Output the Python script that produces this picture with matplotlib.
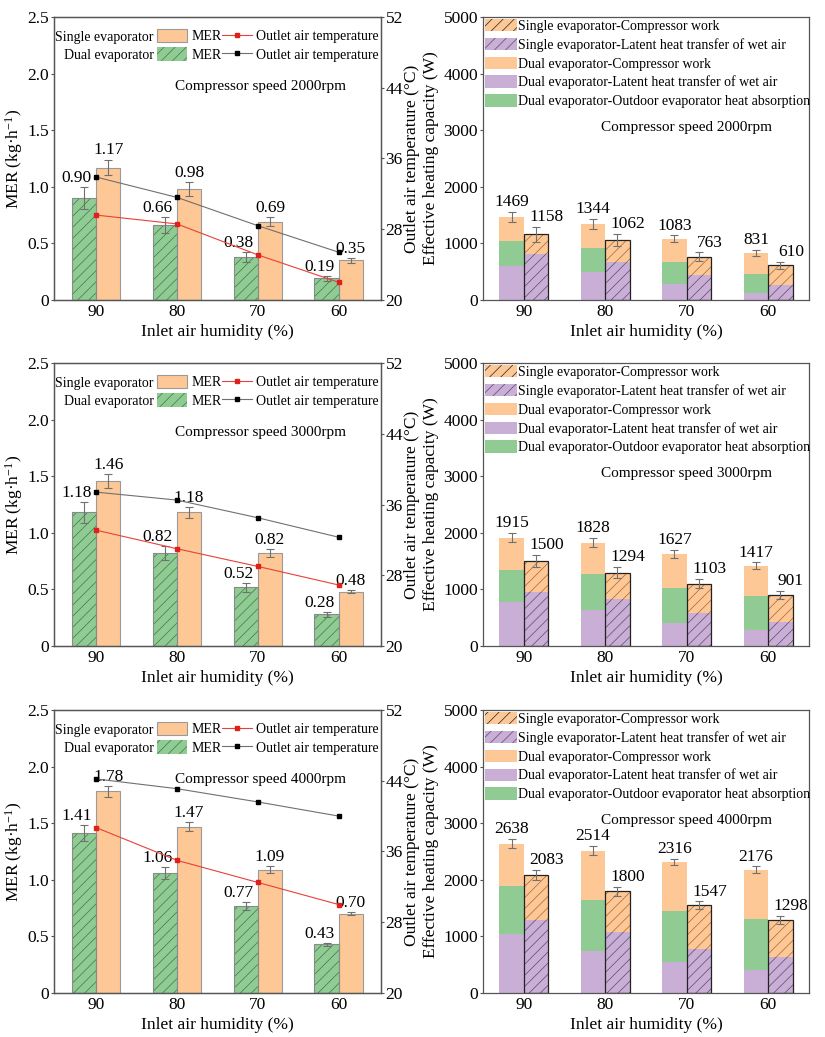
import matplotlib
matplotlib.use('Agg')
import matplotlib.pyplot as plt
import numpy as np
from matplotlib.patches import Patch
from matplotlib.lines import Line2D

plt.rcParams['font.family'] = ['Liberation Serif', 'DejaVu Serif']
plt.rcParams['mathtext.fontset'] = 'custom'
plt.rcParams['mathtext.rm'] = 'Liberation Serif'
plt.rcParams['mathtext.it'] = 'Liberation Serif:italic'
plt.rcParams['hatch.linewidth'] = 0.5

# ---- data ----
humidity = ['90', '80', '70', '60']
speeds = ['2000', '3000', '4000']

# MER (kg/h)
mer_dual = [[0.90, 0.66, 0.38, 0.19], [1.18, 0.82, 0.52, 0.28], [1.41, 1.06, 0.77, 0.43]]
mer_single = [[1.17, 0.98, 0.69, 0.35], [1.46, 1.18, 0.82, 0.48], [1.78, 1.47, 1.09, 0.70]]
mer_dual_err = [[0.10, 0.07, 0.04, 0.02], [0.09, 0.06, 0.04, 0.02], [0.07, 0.05, 0.035, 0.015]]
mer_single_err = [[0.07, 0.06, 0.04, 0.02], [0.06, 0.05, 0.035, 0.015], [0.05, 0.04, 0.03, 0.015]]

# outlet air temperature (C)
temp_single = [[29.6, 28.6, 25.1, 22.0], [33.1, 31.0, 29.0, 26.9], [38.7, 35.0, 32.5, 30.0]]
temp_dual = [[33.9, 31.6, 28.4, 25.4], [37.4, 36.5, 34.5, 32.3], [44.2, 43.1, 41.6, 40.0]]

# effective heating capacity components (W)
dual_latent = [[607, 501, 277, 130], [778, 637, 401, 283], [1038, 743, 542, 413]]
dual_outdoor = [[431, 425, 401, 330], [566, 631, 631, 607], [849, 896, 903, 902]]
dual_comp = [[431, 418, 405, 371], [571, 560, 595, 527], [751, 875, 871, 861]]
dual_total = [[1469, 1344, 1083, 831], [1915, 1828, 1627, 1417], [2638, 2514, 2316, 2176]]
single_latent = [[808, 678, 436, 259], [961, 831, 584, 419], [1297, 1073, 778, 631]]
single_comp = [[350, 384, 327, 351], [539, 463, 519, 482], [786, 727, 769, 667]]
single_total = [[1158, 1062, 763, 610], [1500, 1294, 1103, 901], [2083, 1800, 1547, 1298]]
dual_err = [[85, 85, 60, 50], [80, 80, 70, 60], [80, 80, 60, 60]]
single_err = [[130, 110, 80, 60], [110, 100, 80, 70], [90, 80, 70, 70]]

# ---- colours ----
c_orange = '#fdc896'
c_green = '#8fcb93'
c_purple = '#c9aed6'
h_green = '#3d7a45'
h_orange = '#a8662e'
h_purple = '#5e4a6a'
c_err = '#707070'
c_spine = '#555555'

fig = plt.figure(figsize=(8.25, 10.37), dpi=100)
bottoms = [0.7107, 0.377, 0.0424]
H = 0.273
x = np.arange(len(humidity))
w = 0.3


def style(ax):
    for s in ax.spines.values():
        s.set_color(c_spine)
        s.set_linewidth(0.9)
    ax.tick_params(labelsize=12.5, length=2, width=0.8, pad=1.5, color=c_spine)


for r in range(3):
    # ---------- left: MER + outlet temperature ----------
    ax = fig.add_axes([0.0655, bottoms[r], 0.396, H])
    ax.bar(x - w / 2, mer_dual[r], w, color=c_green, edgecolor=h_green, lw=0, hatch='///', zorder=2)
    ax.bar(x - w / 2, mer_dual[r], w, fill=False, edgecolor='#8a8a8a', lw=0.8, zorder=3)
    ax.bar(x + w / 2, mer_single[r], w, color=c_orange, edgecolor='#9a9a9a', lw=0.8, zorder=2)
    ax.errorbar(x - w / 2, mer_dual[r], yerr=mer_dual_err[r], fmt='none', ecolor=c_err,
                elinewidth=0.8, capsize=3, capthick=0.8, zorder=4)
    ax.errorbar(x + w / 2, mer_single[r], yerr=mer_single_err[r], fmt='none', ecolor=c_err,
                elinewidth=0.8, capsize=3, capthick=0.8, zorder=4)
    for i in range(len(humidity)):
        ax.text(x[i] - w / 2 - 0.09, mer_dual[r][i] + mer_dual_err[r][i] + 0.01,
                f'{mer_dual[r][i]:.2f}', ha='center', va='bottom', fontsize=12.5)
        ax.text(x[i] + w / 2, mer_single[r][i] + mer_single_err[r][i] + 0.01,
                f'{mer_single[r][i]:.2f}', ha='center', va='bottom', fontsize=12.5)
    ax.set_xlim(-0.52, 3.52)
    ax.set_ylim(0, 2.5)
    ax.set_yticks(np.arange(0, 2.51, 0.5))
    ax.yaxis.set_major_formatter(plt.FuncFormatter(lambda v, p: '0' if v == 0 else f'{v:.1f}'))
    ax.set_xticks(x)
    ax.set_xticklabels(humidity)
    ax.set_ylabel('MER (kg·h$^{-1}$)', fontsize=12.5, labelpad=2)
    ax.set_xlabel('Inlet air humidity (%)', fontsize=12.5, labelpad=3)
    style(ax)
    ax.tick_params(axis='x', length=0, pad=3)

    ax2 = ax.twinx()
    ax2.plot(x, temp_single[r], color='#e8403a', lw=0.8, marker='s', ms=2.2, mec='#e0201a', mfc='#e0201a')
    ax2.plot(x, temp_dual[r], color='#707070', lw=0.8, marker='s', ms=2.2, mec='black', mfc='black')
    ax2.set_ylim(20, 52)
    ax2.set_yticks([20, 28, 36, 44, 52])
    ax2.set_ylabel('Outlet air temperature (°C)', fontsize=12.5, labelpad=1)
    style(ax2)
    ax2.text(0.633, 0.755, f'Compressor speed {speeds[r]}rpm', transform=ax2.transAxes,
             ha='center', va='center', fontsize=11)

    handles = [Patch(facecolor=c_orange, edgecolor='#9a9a9a', lw=0.8),
               Patch(facecolor=c_green, edgecolor=h_green, lw=0, hatch='///'),
               Line2D([], [], color='#e8403a', lw=0.8, marker='s', ms=2.2, mec='#e0201a', mfc='#e0201a'),
               Line2D([], [], color='#707070', lw=0.8, marker='s', ms=2.2, mec='black', mfc='black')]
    labels = ['MER', 'MER', 'Outlet air temperature', 'Outlet air temperature']
    ax2.legend(handles, labels, ncol=2, loc='upper right', bbox_to_anchor=(1.0, 0.965),
               frameon=False, fontsize=10, handlelength=2.15, handleheight=1.1,
               handletextpad=0.3, columnspacing=0.05, labelspacing=0.3,
               borderpad=0.15, borderaxespad=0)
    ax2.text(0.305, 0.928, 'Single evaporator', transform=ax2.transAxes, ha='right', va='center', fontsize=10)
    ax2.text(0.305, 0.864, 'Dual evaporator', transform=ax2.transAxes, ha='right', va='center', fontsize=10)

    # ---------- right: stacked heating capacity ----------
    bx = fig.add_axes([0.5855, bottoms[r], 0.395, H])
    dl = np.array(dual_latent[r])
    do = np.array(dual_outdoor[r])
    dc = np.array(dual_comp[r])
    sl = np.array(single_latent[r])
    sc = np.array(single_comp[r])
    bx.bar(x - w / 2, dl, w, color=c_purple, lw=0, zorder=2)
    bx.bar(x - w / 2, do, w, bottom=dl, color=c_green, lw=0, zorder=2)
    bx.bar(x - w / 2, dc, w, bottom=dl + do, color=c_orange, lw=0, zorder=2)
    bx.bar(x + w / 2, sl, w, color=c_purple, edgecolor=h_purple, lw=0, hatch='///', zorder=2)
    bx.bar(x + w / 2, sc, w, bottom=sl, color=c_orange, edgecolor=h_orange, lw=0, hatch='///', zorder=2)
    bx.bar(x + w / 2, sl + sc, w, fill=False, edgecolor='#222222', lw=0.9, zorder=3)
    bx.errorbar(x - w / 2, dl + do + dc, yerr=dual_err[r], fmt='none', ecolor=c_err,
                elinewidth=0.8, capsize=3, capthick=0.8, zorder=4)
    bx.errorbar(x + w / 2, sl + sc, yerr=single_err[r], fmt='none', ecolor=c_err,
                elinewidth=0.8, capsize=3, capthick=0.8, zorder=4)
    for i in range(len(humidity)):
        bx.text(x[i] - w / 2, dual_total[r][i] + dual_err[r][i] + 30, str(dual_total[r][i]),
                ha='center', va='bottom', fontsize=12.5)
        bx.text(x[i] + w / 2 + 0.13, single_total[r][i] + single_err[r][i] + 30, str(single_total[r][i]),
                ha='center', va='bottom', fontsize=12.5)
    bx.set_xlim(-0.5, 3.5)
    bx.set_ylim(0, 5000)
    bx.set_yticks(np.arange(0, 5001, 1000))
    bx.set_xticks(x)
    bx.set_xticklabels(humidity)
    bx.set_ylabel('Effective heating capacity (W)', fontsize=12.5, labelpad=3)
    bx.set_xlabel('Inlet air humidity (%)', fontsize=12.5, labelpad=3)
    style(bx)
    bx.tick_params(axis='x', length=0, pad=3)
    bx.text(0.625, 0.61, f'Compressor speed {speeds[r]}rpm', transform=bx.transAxes,
            ha='center', va='center', fontsize=11)

    bh = [Patch(facecolor=c_orange, edgecolor=h_orange, lw=0, hatch='///'),
          Patch(facecolor=c_purple, edgecolor=h_purple, lw=0, hatch='///'),
          Patch(facecolor=c_orange, lw=0),
          Patch(facecolor=c_purple, lw=0),
          Patch(facecolor=c_green, lw=0)]
    bl = ['Single evaporator-Compressor work',
          'Single evaporator-Latent heat transfer of wet air',
          'Dual evaporator-Compressor work',
          'Dual evaporator-Latent heat transfer of wet air',
          'Dual evaporator-Outdoor evaporator heat absorption']
    leg = bx.legend(bh, bl, loc='upper left', bbox_to_anchor=(0, 1), frameon=False, fontsize=10,
                    handlelength=2.3, handleheight=1.0, handletextpad=0.05, labelspacing=0.35,
                    borderpad=0.15, borderaxespad=0)
    leg.legend_handles[0].set_edgecolor('#222222')

fig.savefig('out.png', dpi=100, facecolor='white')
